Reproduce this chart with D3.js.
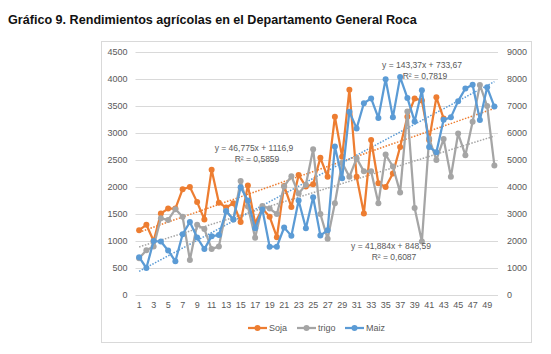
<!DOCTYPE html>
<html>
<head>
<meta charset="utf-8">
<script src="https://cdn.jsdelivr.net/npm/d3@7"></script>
<style>
  body { margin: 0; background: #fff; }
  text { font-family: "Liberation Sans", Arial, sans-serif; }
</style>
</head>
<body>
<div id="chart"></div>
<script>
// Data
const years = d3.range(1, 51);
const xTickLabels = d3.range(1, 50, 2);
const leftTicks = d3.range(0, 4501, 500);
const rightTicks = d3.range(0, 9001, 1000);

// Soja (left axis), series stops at 43
const soja = [1200, 1300, 1000, 1510, 1600, 1600, 1960, 2000, 1720, 1400,
              2320, 1710, 1620, 1700, 1350, 2030, 1330, 1600, 1450, 1070,
              2020, 1630, 2220, 2010, 2050, 2540, 2190, 3300, 2560, 3800,
              2190, 1510, 2870, 2070, 2000, 2250, 2740, 3300, 3640, 3600,
              2870, 3660, 3270];
// trigo (left axis)
const trigo = [680, 830, 900, 1420, 1390, 1590, 1450, 650, 1300, 1220,
               850, 900, 1560, 1400, 2110, 1640, 1060, 1650, 1600, 1500,
               2010, 2200, 1880, 2040, 2700, 1500, 1040, 1700, 2450, 2190,
               2530, 2290, 2290, 1700, 2600, 2380, 1900, 3400, 1610, 990,
               2900, 2500, 2890, 2190, 2990, 2590, 3210, 3890, 3500, 2400];
// Maiz (right axis)
const maiz = [1400, 1000, 2000, 1980, 1650, 1250, 2250, 2700, 2130, 1700,
              2180, 2220, 3100, 2800, 3990, 3500, 2470, 3170, 1790, 1790,
              2500, 2190, 3500, 2470, 3620, 2200, 2400, 5500, 4320, 6790,
              6170, 7100, 7280, 6560, 7990, 6580, 8070, 7300, 6430, 7580,
              5480, 5290, 6490, 6580, 7180, 7650, 7790, 6480, 7690, 6980];

// Linear trendlines shown on the chart: [slope, intercept]
const sojaTrend = [46.775, 1116.9];
const trigoTrend = [41.884, 848.59];
const maizTrend = [143.37, 733.67];
const trendLabels = [
  { eq: "y = 46,775x + 1116,9", r2: "0,5859" },
  { eq: "y = 41,884x + 848,59", r2: "0,6087" },
  { eq: "y = 143,37x + 733,67", r2: "0,7819" }
];

const series = [
  { name: "Soja", values: soja, trend: sojaTrend, axis: "left", color: "#ED7D31", label: trendLabels[0], lx: 254, ly: 151 },
  { name: "trigo", values: trigo, trend: trigoTrend, axis: "left", color: "#A5A5A5", label: trendLabels[1], lx: 391, ly: 249 },
  { name: "Maiz", values: maiz, trend: maizTrend, axis: "right", color: "#5B9BD5", label: trendLabels[2], lx: 422, ly: 68 }
];

const W = 551, H = 354;
const plot = { left: 135.5, right: 498, top: 52, bottom: 295 };

const svg = d3.select("#chart")
  .append("svg")
  .attr("width", W)
  .attr("height", H);

// Title
svg.append("text")
  .attr("x", 8)
  .attr("y", 24)
  .style("font-size", "12.6px")
  .style("font-weight", "bold")
  .attr("fill", "#111")
  .text("Gráfico 9. Rendimientos agrícolas en el Departamento General Roca");

// Chart frame
svg.append("rect")
  .attr("x", 101.5).attr("y", 41.5)
  .attr("width", 430).attr("height", 301)
  .attr("fill", "none")
  .attr("stroke", "#d9d9d9");

// Scales
const x = d3.scaleBand()
  .domain(years)
  .range([plot.left, plot.right])
  .padding(0);
const cx = d => x(d) + x.bandwidth() / 2;

const yLeft = d3.scaleLinear().domain([0, 4500]).range([plot.bottom, plot.top]);
const yRight = d3.scaleLinear().domain([0, 9000]).range([plot.bottom, plot.top]);

// Gridlines
svg.append("g")
  .selectAll("line")
  .data(leftTicks)
  .join("line")
  .attr("x1", plot.left).attr("x2", plot.right)
  .attr("y1", d => Math.round(yLeft(d)) + 0.5)
  .attr("y2", d => Math.round(yLeft(d)) + 0.5)
  .attr("stroke", "#d9d9d9")
  .attr("stroke-width", 1);

// Left axis
const leftAxis = svg.append("g")
  .attr("transform", `translate(${plot.left - 8},0)`)
  .call(d3.axisLeft(yLeft).tickValues(leftTicks).tickFormat(d3.format("d")).tickSize(0).tickPadding(0));
leftAxis.select(".domain").remove();

// Right axis
const rightAxis = svg.append("g")
  .attr("transform", `translate(${plot.right + 9},0)`)
  .call(d3.axisRight(yRight).tickValues(rightTicks).tickFormat(d3.format("d")).tickSize(0).tickPadding(0));
rightAxis.select(".domain").remove();

// Bottom axis
const bottomAxis = svg.append("g")
  .attr("transform", `translate(0,${plot.bottom + 7})`)
  .call(d3.axisBottom(x).tickValues(xTickLabels).tickSize(0).tickPadding(0));
bottomAxis.select(".domain").remove();

svg.selectAll(".tick text")
  .style("font-size", "9px")
  .style("font-family", "'Liberation Sans', Arial, sans-serif")
  .attr("fill", "#595959");

// Trendlines (dotted)
series.forEach(s => {
  const yS = s.axis === "left" ? yLeft : yRight;
  const ends = [1, 50];
  svg.append("line")
    .attr("x1", cx(ends[0]))
    .attr("y1", yS(s.trend[0] * ends[0] + s.trend[1]))
    .attr("x2", cx(ends[1]))
    .attr("y2", yS(s.trend[0] * ends[1] + s.trend[1]))
    .attr("stroke", s.color)
    .attr("stroke-width", 1.5)
    .attr("stroke-dasharray", "1.5,1.5");
});

// Series lines and markers
series.forEach(s => {
  const yS = s.axis === "left" ? yLeft : yRight;
  const pts = s.values.map((v, i) => ({ year: years[i], value: v }));
  const line = d3.line()
    .x(d => cx(d.year))
    .y(d => yS(d.value));

  svg.append("path")
    .datum(pts)
    .attr("fill", "none")
    .attr("stroke", s.color)
    .attr("stroke-width", 2.25)
    .attr("stroke-linejoin", "round")
    .attr("d", line);

  svg.append("g")
    .selectAll("circle")
    .data(pts)
    .join("circle")
    .attr("cx", d => cx(d.year))
    .attr("cy", d => yS(d.value))
    .attr("r", 3)
    .attr("fill", s.color);
});

// Trendline equations
series.forEach(s => {
  const g = svg.append("g")
    .attr("text-anchor", "middle")
    .style("font-size", "8.5px")
    .attr("fill", "#595959");
  g.append("text").attr("x", s.lx).attr("y", s.ly).text(s.label.eq);
  g.append("text").attr("x", s.lx + 3).attr("y", s.ly + 11).text("R² = " + s.label.r2);
});

// Legend
const legendX = [248, 297, 345];
const legend = svg.append("g").attr("transform", "translate(0,328)");
series.forEach((s, i) => {
  const g = legend.append("g").attr("transform", `translate(${legendX[i]},0)`);
  g.append("line")
    .attr("x1", 0).attr("x2", 19)
    .attr("stroke", s.color).attr("stroke-width", 2.25);
  g.append("circle").attr("cx", 9.5).attr("r", 3).attr("fill", s.color);
  g.append("text")
    .attr("x", 21).attr("y", 3)
    .style("font-size", "9px")
    .attr("fill", "#595959")
    .text(s.name);
});
</script>
</body>
</html>
